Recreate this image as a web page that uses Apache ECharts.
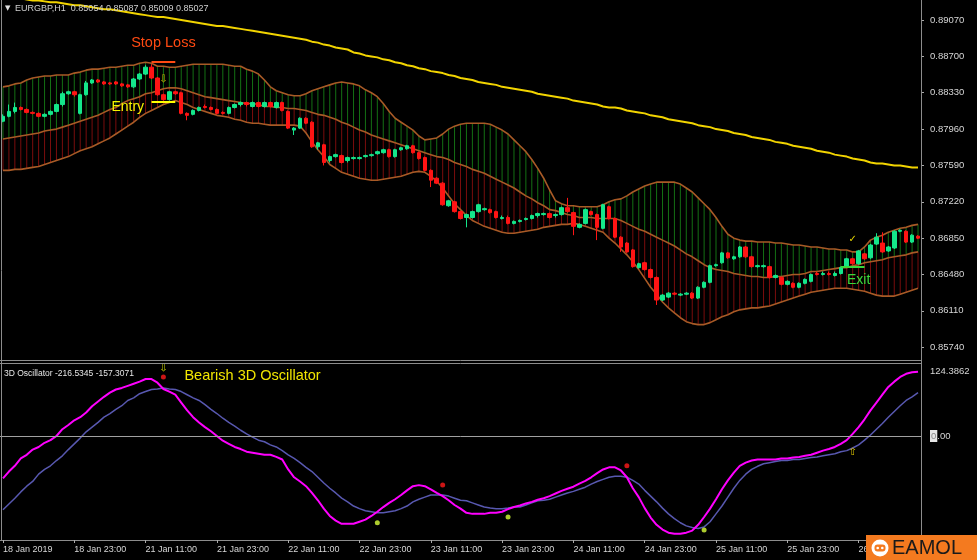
<!DOCTYPE html>
<html><head><meta charset="utf-8">
<script src="https://cdn.jsdelivr.net/npm/echarts@6/dist/echarts.min.js"></script>
<style>html,body{margin:0;padding:0;background:#000;overflow:hidden}#c{width:977px;height:560px}</style>
</head><body><div id="c"></div>
<script>
const timeLabels = ['18 Jan 2019','18 Jan 23:00','21 Jan 11:00','21 Jan 23:00','22 Jan 11:00','22 Jan 23:00','23 Jan 11:00','23 Jan 23:00','24 Jan 11:00','24 Jan 23:00','25 Jan 11:00','25 Jan 23:00','26 Jan 11:00'];
const priceTicks = [0.89070,0.88700,0.88330,0.87960,0.87590,0.87220,0.86850,0.86480,0.86110,0.85740];
const oscTicks = [124.3862, 0];

// [open, close, low, high]
const candles = [
[0.8804,0.8809,0.8803,0.8811],[0.8809,0.8814,0.8808,0.8821],[0.8814,0.8818,0.8812,0.8823],[0.8818,0.8816,0.8815,0.8819],[0.8816,0.8813,0.8812,0.8817],
[0.8813,0.8812,0.8811,0.8814],[0.8812,0.8809,0.8808,0.8813],[0.8809,0.8811,0.8808,0.8812],[0.8811,0.8814,0.8810,0.8815],[0.8814,0.8821,0.8813,0.8822],
[0.8821,0.8832,0.8819,0.8834],[0.8832,0.8834,0.8831,0.8835],[0.8834,0.8831,0.8829,0.8835],[0.8812,0.8831,0.8811,0.8832],[0.8831,0.8843,0.8830,0.8845],
[0.8843,0.8846,0.8842,0.8847],[0.8846,0.8844,0.8843,0.8847],[0.8844,0.8842,0.8841,0.8845],[0.8843,0.8842,0.8841,0.8844],[0.8844,0.8842,0.8841,0.8845],
[0.8842,0.8840,0.8839,0.8843],[0.8841,0.8839,0.8838,0.8842],[0.8839,0.8847,0.8838,0.8848],[0.8847,0.8852,0.8846,0.8853],[0.8852,0.8859,0.8851,0.8861],
[0.8859,0.8848,0.8847,0.8862],[0.8848,0.8831,0.8830,0.8849],[0.8831,0.8826,0.8825,0.8832],[0.8826,0.8834,0.8825,0.8835],[0.8834,0.8832,0.8831,0.8835],
[0.8833,0.8812,0.8811,0.8834],[0.8812,0.8810,0.8805,0.8813],[0.8811,0.8815,0.8810,0.8816],[0.8815,0.8818,0.8814,0.8819],[0.8819,0.8818,0.8817,0.8821],
[0.8818,0.8816,0.8815,0.8819],[0.8816,0.8812,0.8811,0.8817],[0.8813,0.8812,0.8811,0.8814],[0.8812,0.8818,0.8811,0.8819],[0.8818,0.8821,0.8817,0.8822],
[0.8821,0.8823,0.8819,0.8824],[0.8823,0.8821,0.8819,0.8824],[0.8819,0.8823,0.8818,0.8824],[0.8823,0.8819,0.8818,0.8824],[0.8819,0.8823,0.8818,0.8824],
[0.8823,0.8819,0.8818,0.8824],[0.8818,0.8823,0.8817,0.8824],[0.8823,0.8815,0.8814,0.8824],[0.8814,0.8797,0.8796,0.8815],[0.8795,0.8797,0.8790,0.8798],
[0.8797,0.8807,0.8796,0.8808],[0.8807,0.8802,0.8801,0.8808],[0.8803,0.8778,0.8777,0.8804],[0.8778,0.8782,0.8775,0.8783],[0.8780,0.8762,0.8759,0.8781],
[0.8764,0.8768,0.8762,0.8769],[0.8768,0.8770,0.8767,0.8771],[0.8769,0.8762,0.8761,0.8770],[0.8764,0.8767,0.8762,0.8768],[0.8766,0.8767,0.8765,0.8768],
[0.8766,0.8767,0.8765,0.8768],[0.8768,0.8769,0.8767,0.8770],[0.8769,0.8770,0.8768,0.8771],[0.8771,0.8773,0.8770,0.8774],[0.8772,0.8775,0.8771,0.8776],
[0.8775,0.8768,0.8767,0.8776],[0.8768,0.8775,0.8767,0.8776],[0.8775,0.8777,0.8774,0.8778],[0.8776,0.8779,0.8775,0.8780],[0.8779,0.8772,0.8771,0.8780],
[0.8772,0.8766,0.8765,0.8773],[0.8767,0.8754,0.8753,0.8768],[0.8754,0.8744,0.8737,0.8755],[0.8746,0.8741,0.8740,0.8747],[0.8741,0.8719,0.8718,0.8742],
[0.8718,0.8723,0.8717,0.8724],[0.8722,0.8712,0.8711,0.8723],[0.8712,0.8705,0.8704,0.8713],[0.8706,0.8709,0.8696,0.8710],[0.8706,0.8712,0.8705,0.8713],
[0.8712,0.8719,0.8711,0.8720],[0.8714,0.8715,0.8713,0.8716],[0.8714,0.8711,0.8710,0.8715],[0.8712,0.8706,0.8705,0.8713],[0.8705,0.8706,0.8704,0.8708],
[0.8706,0.8700,0.8699,0.8708],[0.8700,0.8702,0.8699,0.8703],[0.8702,0.8703,0.8701,0.8704],[0.8704,0.8705,0.8703,0.8706],[0.8705,0.8708,0.8704,0.8709],
[0.8708,0.8710,0.8706,0.8711],[0.8709,0.8710,0.8708,0.8711],[0.8710,0.8706,0.8705,0.8711],[0.8708,0.8709,0.8706,0.8710],[0.8709,0.8716,0.8708,0.8717],
[0.8716,0.8712,0.8711,0.8726],[0.8711,0.8697,0.8688,0.8712],[0.8696,0.8699,0.8695,0.8700],[0.8700,0.8714,0.8699,0.8715],[0.8712,0.8709,0.8708,0.8713],
[0.8709,0.8696,0.8683,0.8710],[0.8695,0.8719,0.8694,0.8720],[0.8717,0.8705,0.8704,0.8718],[0.8705,0.8686,0.8685,0.8706],[0.8686,0.8676,0.8671,0.8687],
[0.8680,0.8671,0.8670,0.8681],[0.8673,0.8656,0.8655,0.8674],[0.8655,0.8659,0.8654,0.8660],[0.8660,0.8653,0.8652,0.8661],[0.8653,0.8645,0.8644,0.8654],
[0.8645,0.8622,0.8617,0.8646],[0.8622,0.8627,0.8621,0.8628],[0.8625,0.8629,0.8624,0.8630],[0.8629,0.8628,0.8627,0.8630],[0.8627,0.8628,0.8626,0.8629],
[0.8628,0.8629,0.8627,0.8630],[0.8629,0.8624,0.8623,0.8630],[0.8624,0.8635,0.8623,0.8636],[0.8635,0.8640,0.8634,0.8641],[0.8640,0.8657,0.8639,0.8658],
[0.8657,0.8658,0.8656,0.8659],[0.8660,0.8670,0.8659,0.8671],[0.8670,0.8665,0.8664,0.8671],[0.8664,0.8666,0.8663,0.8667],[0.8666,0.8676,0.8665,0.8677],
[0.8676,0.8666,0.8665,0.8677],[0.8666,0.8656,0.8655,0.8667],[0.8656,0.8657,0.8655,0.8658],[0.8656,0.8657,0.8655,0.8658],[0.8656,0.8645,0.8644,0.8657],
[0.8645,0.8647,0.8644,0.8648],[0.8645,0.8638,0.8637,0.8646],[0.8638,0.8641,0.8637,0.8642],[0.8639,0.8635,0.8634,0.8640],[0.8635,0.8639,0.8634,0.8640],
[0.8639,0.8643,0.8638,0.8644],[0.8641,0.8648,0.8640,0.8649],[0.8649,0.8648,0.8647,0.8651],[0.8648,0.8649,0.8647,0.8651],[0.8649,0.8648,0.8647,0.8651],
[0.8647,0.8649,0.8646,0.8651],[0.8649,0.8655,0.8648,0.8656],[0.8656,0.8664,0.8655,0.8665],[0.8664,0.8659,0.8658,0.8665],[0.8659,0.8672,0.8658,0.8673],
[0.8669,0.8664,0.8663,0.8670],[0.8665,0.8678,0.8664,0.8679],[0.8679,0.8686,0.8678,0.8690],[0.8680,0.8671,0.8670,0.8691],[0.8672,0.8676,0.8671,0.8677],
[0.8675,0.8692,0.8674,0.8693],[0.8692,0.8693,0.8691,0.8694],[0.8692,0.8681,0.8680,0.8693],[0.8681,0.8688,0.8680,0.8689],[0.8687,0.8685,0.8684,0.8688]
];

const bandUpper = [
0.8839,0.8840,0.8842,0.8843,0.8846,0.8848,0.8849,0.8850,0.8850,0.8851,
0.8851,0.8851,0.8853,0.8854,0.8856,0.8857,0.8857,0.8858,0.8859,0.8859,
0.8860,0.8861,0.8861,0.8863,0.8864,0.8863,0.8860,0.8860,0.8859,0.8859,
0.8860,0.8861,0.8862,0.8862,0.8862,0.8862,0.8862,0.8862,0.8861,0.8860,
0.8860,0.8857,0.8855,0.8852,0.8846,0.8839,0.8835,0.8833,0.8831,0.8830,
0.8830,0.8832,0.8835,0.8837,0.8839,0.8841,0.8843,0.8844,0.8843,0.8842,
0.8840,0.8836,0.8833,0.8829,0.8822,0.8814,0.8807,0.8803,0.8799,0.8795,
0.8789,0.8785,0.8786,0.8787,0.8791,0.8796,0.8799,0.8801,0.8802,0.8802,
0.8802,0.8802,0.8801,0.8798,0.8795,0.8791,0.8785,0.8779,0.8773,0.8765,
0.8756,0.8746,0.8734,0.8723,0.8720,0.8718,0.8718,0.8717,0.8717,0.8717,
0.8717,0.8719,0.8722,0.8724,0.8725,0.8728,0.8732,0.8735,0.8738,0.8740,
0.8742,0.8742,0.8742,0.8742,0.8740,0.8736,0.8732,0.8726,0.8720,0.8714,
0.8706,0.8697,0.8689,0.8685,0.8683,0.8682,0.8682,0.8681,0.8681,0.8681,
0.8680,0.8680,0.8679,0.8678,0.8678,0.8677,0.8676,0.8676,0.8675,0.8674,
0.8674,0.8673,0.8673,0.8671,0.8671,0.8676,0.8683,0.8686,0.8688,0.8691,
0.8693,0.8695,0.8696,0.8698,0.8699];

const bandMiddle = [
0.8786,0.8787,0.8788,0.8789,0.8790,0.8791,0.8792,0.8794,0.8795,0.8796,
0.8798,0.8800,0.8802,0.8804,0.8806,0.8808,0.8810,0.8813,0.8816,0.8818,
0.8822,0.8825,0.8827,0.8829,0.8832,0.8833,0.8835,0.8837,0.8838,0.8838,
0.8837,0.8835,0.8833,0.8831,0.8829,0.8828,0.8827,0.8826,0.8825,0.8824,
0.8823,0.8822,0.8822,0.8821,0.8819,0.8819,0.8818,0.8818,0.8817,0.8817,
0.8816,0.8815,0.8813,0.8811,0.8810,0.8808,0.8806,0.8803,0.8801,0.8798,
0.8795,0.8793,0.8790,0.8788,0.8786,0.8784,0.8782,0.8780,0.8778,0.8776,
0.8774,0.8772,0.8770,0.8768,0.8767,0.8765,0.8762,0.8760,0.8758,0.8755,
0.8753,0.8751,0.8748,0.8745,0.8742,0.8739,0.8736,0.8732,0.8728,0.8725,
0.8721,0.8718,0.8714,0.8713,0.8711,0.8709,0.8708,0.8706,0.8706,0.8706,
0.8705,0.8705,0.8705,0.8705,0.8703,0.8700,0.8697,0.8694,0.8692,0.8689,
0.8686,0.8683,0.8680,0.8677,0.8673,0.8669,0.8666,0.8662,0.8658,0.8655,
0.8653,0.8652,0.8651,0.8649,0.8648,0.8647,0.8646,0.8646,0.8645,0.8645,
0.8646,0.8646,0.8647,0.8648,0.8648,0.8649,0.8651,0.8651,0.8652,0.8653,
0.8654,0.8655,0.8655,0.8657,0.8658,0.8660,0.8661,0.8662,0.8663,0.8665,
0.8666,0.8667,0.8668,0.8670,0.8671];

const bandLower = [
0.8754,0.8754,0.8755,0.8755,0.8756,0.8757,0.8758,0.8760,0.8762,0.8764,
0.8766,0.8768,0.8771,0.8774,0.8776,0.8778,0.8781,0.8784,0.8787,0.8791,
0.8795,0.8799,0.8803,0.8808,0.8812,0.8815,0.8818,0.8821,0.8823,0.8825,
0.8823,0.8821,0.8818,0.8816,0.8814,0.8812,0.8810,0.8809,0.8808,0.8806,
0.8805,0.8803,0.8802,0.8802,0.8801,0.8800,0.8800,0.8800,0.8800,0.8800,
0.8799,0.8792,0.8783,0.8775,0.8768,0.8760,0.8756,0.8752,0.8750,0.8748,
0.8746,0.8745,0.8744,0.8744,0.8745,0.8746,0.8747,0.8748,0.8750,0.8752,
0.8753,0.8752,0.8748,0.8743,0.8736,0.8728,0.8720,0.8714,0.8708,0.8703,
0.8700,0.8697,0.8695,0.8693,0.8691,0.8690,0.8690,0.8691,0.8692,0.8693,
0.8694,0.8696,0.8697,0.8698,0.8699,0.8699,0.8700,0.8699,0.8697,0.8695,
0.8693,0.8691,0.8685,0.8680,0.8674,0.8668,0.8661,0.8653,0.8644,0.8635,
0.8628,0.8620,0.8614,0.8609,0.8604,0.8600,0.8598,0.8597,0.8597,0.8599,
0.8602,0.8605,0.8607,0.8610,0.8612,0.8613,0.8614,0.8614,0.8615,0.8616,
0.8618,0.8620,0.8622,0.8624,0.8626,0.8628,0.8630,0.8631,0.8632,0.8633,
0.8634,0.8634,0.8634,0.8633,0.8632,0.8631,0.8629,0.8627,0.8626,0.8626,
0.8626,0.8628,0.8630,0.8632,0.8634];

const maYellow = [
0.8932,0.8931,0.8930,0.8929,0.8928,0.8927,0.8927,0.8926,0.8925,0.8925,
0.8924,0.8923,0.8922,0.8922,0.8921,0.8920,0.8919,0.8918,0.8918,0.8917,
0.8916,0.8915,0.8914,0.8913,0.8912,0.8911,0.8910,0.8910,0.8909,0.8908,
0.8907,0.8906,0.8905,0.8904,0.8903,0.8902,0.8901,0.8901,0.8900,0.8899,
0.8898,0.8897,0.8896,0.8895,0.8894,0.8893,0.8892,0.8891,0.8890,0.8889,
0.8888,0.8887,0.8885,0.8884,0.8882,0.8881,0.8879,0.8878,0.8877,0.8874,
0.8873,0.8871,0.8870,0.8869,0.8867,0.8866,0.8864,0.8863,0.8861,0.8860,
0.8858,0.8857,0.8855,0.8854,0.8853,0.8851,0.8850,0.8848,0.8847,0.8846,
0.8844,0.8843,0.8842,0.8841,0.8839,0.8838,0.8837,0.8836,0.8835,0.8834,
0.8832,0.8831,0.8830,0.8829,0.8828,0.8827,0.8825,0.8824,0.8823,0.8822,
0.8821,0.8819,0.8818,0.8818,0.8817,0.8815,0.8814,0.8813,0.8812,0.8810,
0.8809,0.8808,0.8806,0.8805,0.8804,0.8803,0.8802,0.8800,0.8799,0.8798,
0.8796,0.8795,0.8794,0.8792,0.8791,0.8790,0.8788,0.8787,0.8786,0.8785,
0.8783,0.8782,0.8781,0.8779,0.8778,0.8777,0.8776,0.8774,0.8773,0.8772,
0.8770,0.8769,0.8768,0.8766,0.8765,0.8764,0.8762,0.8761,0.8761,0.8760,
0.8759,0.8759,0.8758,0.8757,0.8757];

const oscFast = [
-81,-68,-57,-43,-36,-26,-21,-13,-8,0,
13,21,30,36,45,57,66,75,83,89,
92,96,100,104,109,109,102,90,85,79,
64,49,36,26,17,9,0,-9,-15,-21,
-25,-30,-32,-34,-36,-36,-40,-45,-64,-79,
-87,-96,-109,-123,-139,-153,-162,-168,-168,-168,
-164,-160,-153,-145,-136,-128,-121,-113,-104,-96,
-94,-96,-102,-109,-115,-123,-132,-139,-147,-149,
-149,-149,-147,-147,-145,-140,-136,-133,-129,-126,
-122,-119,-115,-110,-105,-101,-97,-91,-86,-79,
-71,-64,-60,-60,-66,-79,-100,-117,-138,-156,
-170,-179,-185,-187,-187,-185,-181,-170,-155,-139,
-121,-102,-85,-70,-57,-51,-47,-45,-45,-45,
-45,-43,-43,-41,-40,-38,-36,-32,-28,-25,
-21,-15,-8,4,17,32,49,64,79,94,
104,113,119,122,123];

const oscSlow = [
-141,-130,-119,-107,-96,-87,-73,-64,-57,-47,
-38,-26,-15,-4,8,17,26,36,43,51,
58,68,73,81,85,89,90,92,90,89,
85,79,73,68,60,51,43,34,26,19,
11,4,-2,-8,-11,-17,-21,-28,-36,-43,
-51,-60,-68,-79,-90,-100,-109,-119,-126,-134,
-139,-143,-145,-147,-147,-145,-143,-139,-134,-126,
-121,-117,-113,-113,-113,-115,-119,-123,-124,-128,
-132,-136,-138,-139,-139,-138,-136,-136,-132,-128,
-124,-123,-121,-117,-113,-109,-106,-102,-98,-92,
-87,-83,-79,-77,-77,-79,-85,-92,-104,-115,
-126,-138,-149,-158,-166,-172,-175,-177,-174,-164,
-149,-134,-117,-100,-85,-73,-64,-58,-53,-51,
-49,-47,-47,-45,-45,-43,-41,-40,-38,-36,
-34,-30,-28,-23,-17,-8,2,13,24,36,
47,58,68,75,83];

const sellDots = [[27,113],[74,-94],[105,-57]];
const buyDots = [[63,-166],[85,-155],[118,-180]];
const stopLoss = 0.8865, entryLevel = 0.8824, exitLevel = 0.8656;

const categories = candles.map((d, i) => String(i));
const bandData = bandUpper.map((u, i) => [i, u, bandMiddle[i], bandLower[i]]);

const FONT = 'Liberation Sans';
const chart = echarts.init(document.getElementById('c'), null, {renderer: 'canvas'});
chart.setOption({
  animation: false,
  backgroundColor: '#000',
  grid: [
    {left: 0, right: 56, top: 0, height: 358, outerBoundsMode: 'none', containLabel: false},
    {left: 0, right: 56, top: 371, height: 169, outerBoundsMode: 'none', containLabel: false}
  ],
  xAxis: [
    {type: 'category', gridIndex: 0, data: categories, show: false},
    {type: 'category', gridIndex: 1, data: categories,
      axisLine: {onZero: false, lineStyle: {color: '#8c8c8c'}},
      axisTick: {show: true, alignWithLabel: true, interval: 11, length: 3, lineStyle: {color: '#aaa'}},
      axisLabel: {interval: 11, align: 'left', margin: 5, color: '#d6d6d6', fontSize: 9, fontFamily: FONT, hideOverlap: false,
        formatter: (v, idx) => (idx % 12 === 0 && timeLabels[idx / 12]) ? timeLabels[idx / 12] : ''},
      splitLine: {show: false}}
  ],
  yAxis: [
    {type: 'value', gridIndex: 0, position: 'right', min: 0.85630, max: 0.89274,
      splitLine: {show: false},
      axisLine: {show: true, lineStyle: {color: '#8c8c8c'}},
      axisTick: {show: true, customValues: priceTicks, length: 3, lineStyle: {color: '#aaa'}},
      axisLabel: {customValues: priceTicks, margin: 9, color: '#d6d6d6', fontSize: 9.5, fontFamily: FONT,
        formatter: v => v.toFixed(5)}},
    {type: 'value', gridIndex: 1, position: 'right', min: -199.02, max: 124.3862,
      splitLine: {show: false},
      axisLine: {show: true, lineStyle: {color: '#8c8c8c'}},
      axisTick: {show: false},
      axisLabel: {customValues: oscTicks, margin: 9, color: '#d6d6d6', fontSize: 9.5, fontFamily: FONT,
        formatter: v => v === 0 ? '{b|0}.00' : String(v),
        rich: {b: {backgroundColor: '#e6e6e6', color: '#888', fontSize: 9.5, fontFamily: FONT, padding: [1, 1, 1, 1]}}}}
  ],
  series: [
    {type: 'custom', xAxisIndex: 0, yAxisIndex: 0, z: 1, silent: true,
      data: bandData, encode: {x: 0, y: [1, 2, 3]},
      renderItem: (params, api) => {
        const up = api.coord([api.value(0), api.value(1)]);
        const md = api.coord([api.value(0), api.value(2)]);
        const lo = api.coord([api.value(0), api.value(3)]);
        return {type: 'group', children: [
          {type: 'line', shape: {x1: up[0], y1: up[1], x2: md[0], y2: md[1]}, style: {stroke: '#147014', lineWidth: 1}},
          {type: 'line', shape: {x1: md[0], y1: md[1], x2: lo[0], y2: lo[1]}, style: {stroke: '#7a0d0d', lineWidth: 1}}
        ]};
      }},
    {type: 'line', name: 'upper', xAxisIndex: 0, yAxisIndex: 0, data: bandUpper, showSymbol: false, z: 2, silent: true,
      lineStyle: {color: '#a85a26', width: 1.6}},
    {type: 'line', name: 'middle', xAxisIndex: 0, yAxisIndex: 0, data: bandMiddle, showSymbol: false, z: 2, silent: true,
      lineStyle: {color: '#a85a26', width: 1.6}},
    {type: 'line', name: 'lower', xAxisIndex: 0, yAxisIndex: 0, data: bandLower, showSymbol: false, z: 2, silent: true,
      lineStyle: {color: '#a85a26', width: 1.6}},
    {type: 'line', name: 'ma', xAxisIndex: 0, yAxisIndex: 0, data: maYellow, showSymbol: false, z: 2, silent: true, clip: true,
      lineStyle: {color: '#f2d400', width: 2}},
    {type: 'candlestick', xAxisIndex: 0, yAxisIndex: 0, data: candles, barWidth: 4, z: 3, silent: true,
      itemStyle: {color: '#14e68a', color0: '#ff1414', borderColor: '#14e68a', borderColor0: '#ff1414', borderWidth: 1},
      markLine: {silent: true, symbol: ['none', 'none'], label: {show: false}, animation: false,
        data: [
          [{coord: [25, stopLoss], lineStyle: {color: '#ff4a12', width: 2, type: 'solid'}}, {coord: [29, stopLoss]}],
          [{coord: [25, entryLevel], lineStyle: {color: '#ffff00', width: 2, type: 'solid'}}, {coord: [29, entryLevel]}],
          [{coord: [141, exitLevel], lineStyle: {color: '#3ad83a', width: 2, type: 'solid'}}, {coord: [145, exitLevel]}]
        ]},
      markPoint: {silent: true, symbol: 'circle', symbolSize: 0, animation: false,
        data: [
          {coord: [27, 0.8884], label: {show: true, formatter: 'Stop Loss', color: '#ff4a12', fontSize: 14.5, fontFamily: FONT}},
          {coord: [21, 0.8818], label: {show: true, formatter: 'Entry', color: '#f5f500', fontSize: 14, fontFamily: FONT}},
          {coord: [144, 0.8642], label: {show: true, formatter: 'Exit', color: '#3ad83a', fontSize: 14, fontFamily: FONT}},
          {coord: [27, 0.8847], label: {show: true, formatter: '⇩', color: '#c8b400', fontSize: 10, fontFamily: 'DejaVu Sans'}},
          {coord: [143, 0.8684], label: {show: true, formatter: '✓', color: '#e8d800', fontSize: 10, fontFamily: 'DejaVu Sans'}}
        ]}},
    {type: 'line', name: 'fast', xAxisIndex: 1, yAxisIndex: 1, data: oscFast, showSymbol: false, z: 3, silent: true,
      lineStyle: {color: '#ff00ff', width: 2},
      markLine: {silent: true, symbol: ['none', 'none'], label: {show: false}, animation: false,
        lineStyle: {color: '#a0a0a0', width: 1, type: 'solid'}, data: [{yAxis: 0}]},
      markPoint: {silent: true, symbol: 'circle', symbolSize: 0, animation: false,
        data: [
          {coord: [42, 114.8], label: {show: true, formatter: 'Bearish 3D Oscillator', color: '#f2e600', fontSize: 14.5, fontFamily: FONT}},
          {coord: [27, 113], label: {show: true, formatter: '⇩', color: '#c8d400', fontSize: 10, fontFamily: 'DejaVu Sans', offset: [0, -9]}},
          {coord: [143, -31], label: {show: true, formatter: '⇧', color: '#e0c800', fontSize: 10, fontFamily: 'DejaVu Sans'}}
        ]}},
    {type: 'line', name: 'slow', xAxisIndex: 1, yAxisIndex: 1, data: oscSlow, showSymbol: false, z: 2, silent: true,
      lineStyle: {color: '#5858b0', width: 1.5}},
    {type: 'scatter', xAxisIndex: 1, yAxisIndex: 1, data: sellDots, symbolSize: 5, z: 4, silent: true,
      itemStyle: {color: '#ff1a1a'}},
    {type: 'scatter', xAxisIndex: 1, yAxisIndex: 1, data: buyDots, symbolSize: 5, z: 4, silent: true,
      itemStyle: {color: '#d8ff3a'}}
  ],
  graphic: [
    {type: 'line', z: 50, shape: {x1: 921.5, y1: 0, x2: 921.5, y2: 541}, style: {stroke: '#8c8c8c', lineWidth: 1}},
    {type: 'line', z: 50, shape: {x1: 1.5, y1: 0, x2: 1.5, y2: 541}, style: {stroke: '#8c8c8c', lineWidth: 1}},
    {type: 'line', z: 50, shape: {x1: 0, y1: 360.5, x2: 921, y2: 360.5}, style: {stroke: '#8c8c8c', lineWidth: 1}},
    {type: 'line', z: 50, shape: {x1: 0, y1: 363.5, x2: 921, y2: 363.5}, style: {stroke: '#8c8c8c', lineWidth: 1}},
    {type: 'text', z: 50, x: 5, y: 5, style: {text: '▼', fill: '#e0e0e0', font: '7px DejaVu Sans'}},
    {type: 'text', z: 50, x: 15, y: 4, style: {text: 'EURGBP,H1  0.85054 0.85087 0.85009 0.85027', fill: '#cfcfcf', font: '9px Liberation Sans'}},
    {type: 'text', z: 50, x: 4, y: 369, style: {text: '3D Oscillator -216.5345 -157.3071', fill: '#e6e6e6', font: '8.5px Liberation Sans'}},
    {type: 'rect', z: 60, shape: {x: 866, y: 535, width: 111, height: 25}, style: {fill: '#f47a1f'}},
    {type: 'circle', z: 61, shape: {cx: 880, cy: 548, r: 8.5}, style: {fill: '#fff'}},
    {type: 'rect', z: 62, shape: {x: 874.5, y: 544.5, width: 11, height: 7, r: 3}, style: {fill: '#f47a1f'}},
    {type: 'circle', z: 63, shape: {cx: 877.7, cy: 548, r: 1.3}, style: {fill: '#fff'}},
    {type: 'circle', z: 63, shape: {cx: 882.3, cy: 548, r: 1.3}, style: {fill: '#fff'}},
    {type: 'text', z: 61, x: 892, y: 548, style: {text: 'EAMOL', fill: '#1a1a1a', font: '20px Liberation Sans', verticalAlign: 'middle'}}
  ]
});
</script>
</body></html>
